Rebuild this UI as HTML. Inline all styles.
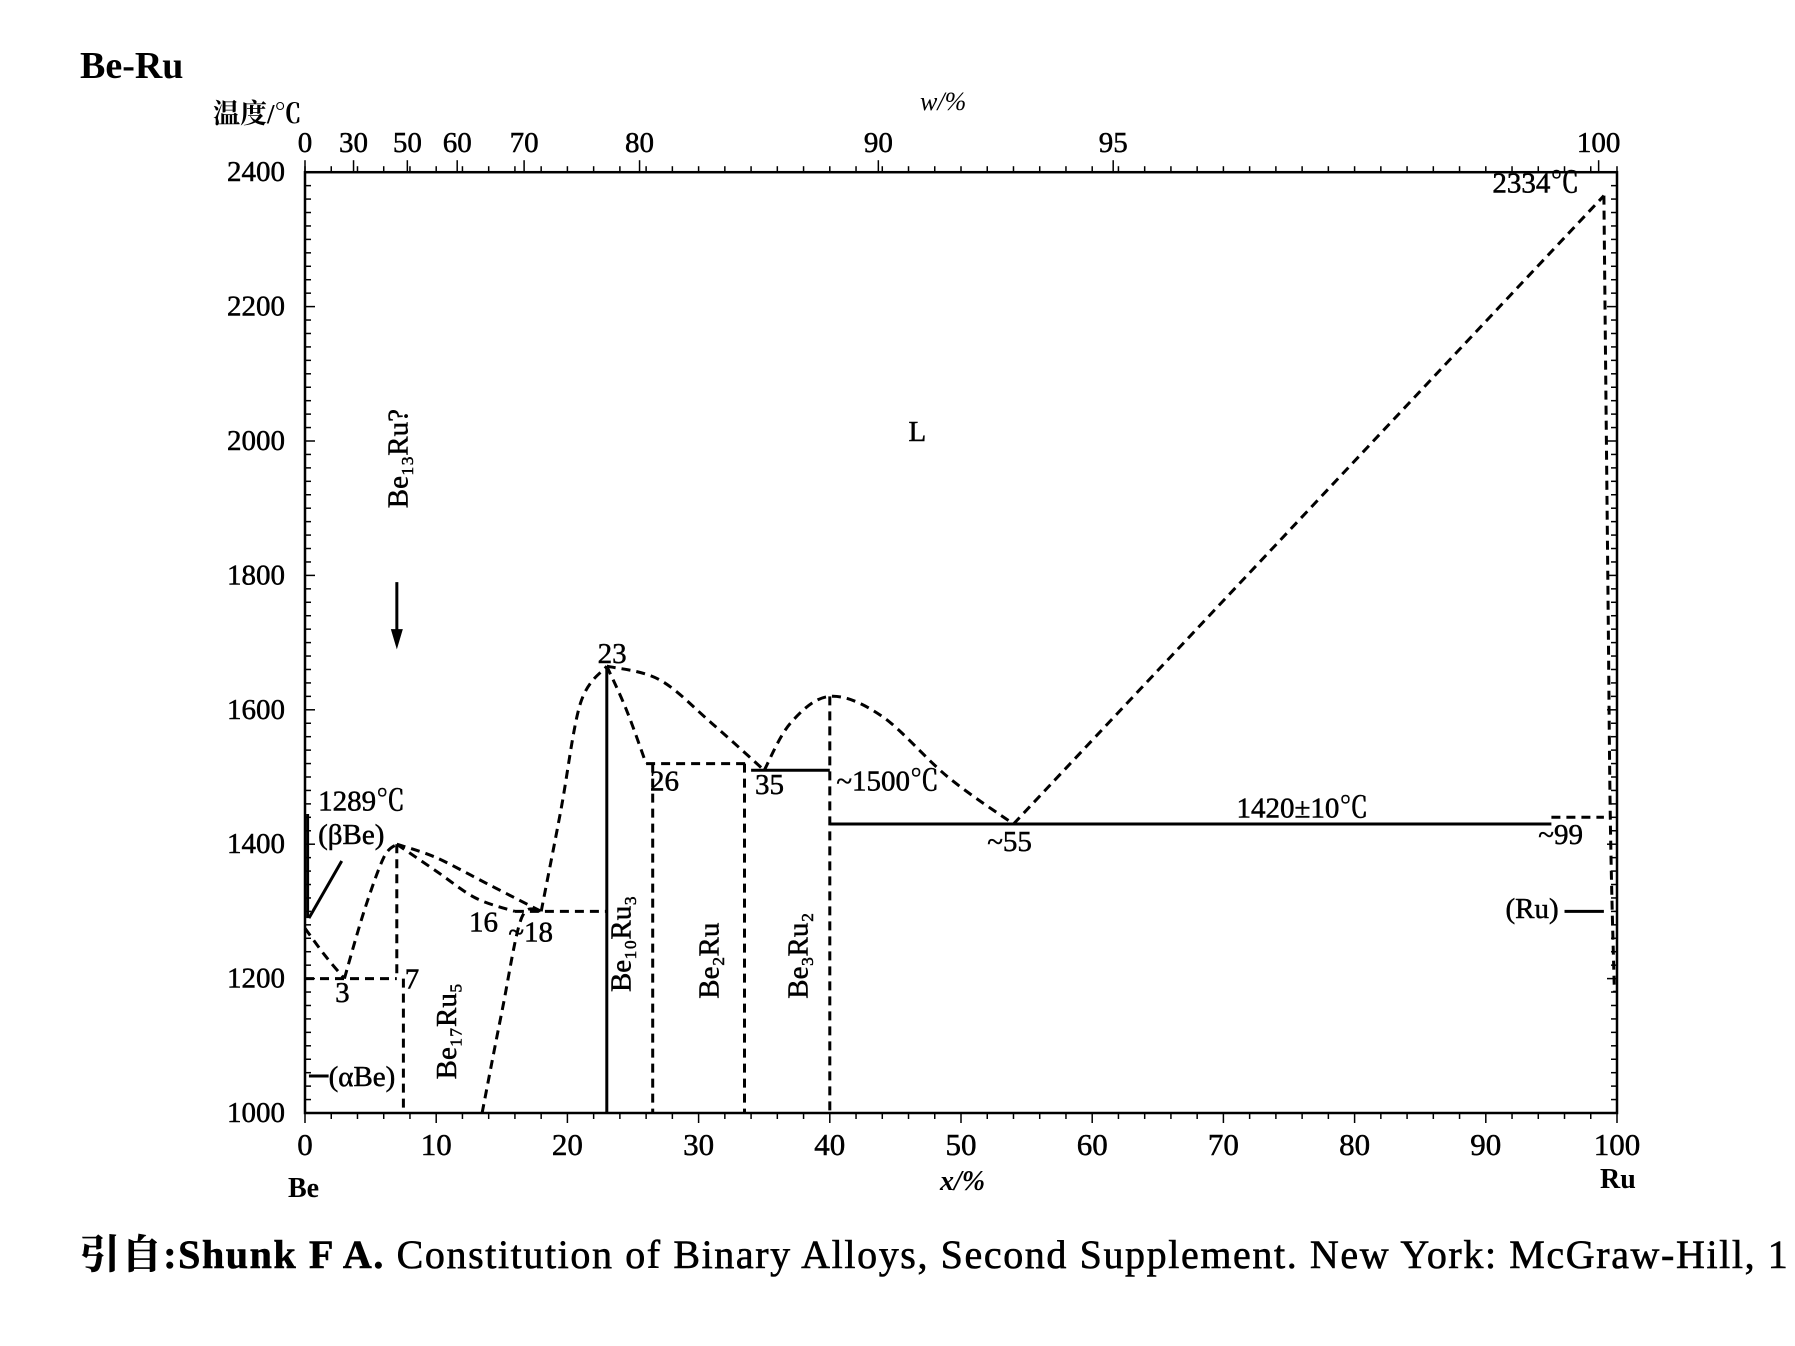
<!DOCTYPE html>
<html><head><meta charset="utf-8"><style>
body{margin:0;background:#fff;}
svg{display:block;font-family:"Liberation Serif","Noto Serif CJK SC",serif;}
#axes text,#labels text{stroke:#000;stroke-width:0.5;}
</style></head><body>
<svg id="chart" width="1795" height="1346" viewBox="0 0 1795 1346" xmlns="http://www.w3.org/2000/svg">
<text x="80" y="78" font-size="38" font-weight="bold">Be-Ru</text>
<text x="213" y="123" font-size="27" font-weight="bold">温度/℃</text>
<text x="920" y="110" font-size="26" font-style="italic">w/%</text>
<text x="940" y="1190" font-size="28" font-weight="bold" font-style="italic">x/%</text>
<text x="288" y="1197" font-size="28" font-weight="bold">Be</text>
<text x="1600" y="1188" font-size="28" font-weight="bold">Ru</text>
<text x="80" y="1268" font-size="40" letter-spacing="1.6" stroke="#000" stroke-width="0.6"><tspan font-weight="bold">引自:Shunk F A.</tspan> Constitution of Binary Alloys, Second Supplement. New York: McGraw-Hill, 1</text>
<g id="axes"></g>
<g id="marks"></g>
<g id="labels" font-size="29"></g>
</svg>
<script>
const yTicks=[1000,1200,1400,1600,1800,2000,2200,2400];
const xTicks=[0,10,20,30,40,50,60,70,80,90,100];
const topTickLabels=["0","30","50","60","70","80","90","95","100"];
const topTickPos=[0,3.7,7.8,11.6,16.7,25.5,43.7,61.6,98.6];
const seg_liq1=[[0,1275],[1.5,1235],[3,1200]];
const seg_liq2=[[3,1200],[4.5,1300],[6,1380],[7,1400]];
const seg_liq3=[[7,1400],[10,1380],[14,1340],[18,1300]];
const seg_liq3b=[[7,1400],[10,1360],[13,1320],[16,1300]];
const seg_be17=[[13.5,1000],[15,1150],[16.5,1290],[18,1300]];
const seg_liq4=[[18,1300],[19.5,1450],[21,1610],[23,1665]];
const seg_liq5=[[23,1665],[27,1645],[31,1580],[35,1510]];
const seg_liq6=[[23,1665],[24.5,1600],[26,1520]];
const seg_liq7=[[35,1510],[37,1580],[40,1620],[44,1590],[49,1500],[54,1430]];
const seg_liq8=[[54,1430],[99,2365]];
const seg_ru=[[99,2365],[99.3,1800],[99.5,1430],[99.8,1180]];
const dashedH=[[0,7,1200],[16,23,1300],[26,34,1520],[95,99,1440]];
const solidH=[[34,40,1510],[40,95,1430]];
const dashedV=[[7,1400,1200],[7.5,1200,1000],[26.5,1520,1000],[33.5,1520,1000],[40,1620,1000]];
const solidV=[[23,1665,1000]];
const NS="http://www.w3.org/2000/svg";
function X(v){return 305+v*13.12;}
function Y(t){return 1113-(t-1000)*0.672;}
const axes=document.getElementById('axes'),marks=document.getElementById('marks'),labels=document.getElementById('labels');
function mk(tag,attrs,parent){const e=document.createElementNS(NS,tag);for(const k in attrs)e.setAttribute(k,attrs[k]);parent.appendChild(e);return e;}
let r=mk('rect',{x:X(0),y:Y(2400),width:X(100)-X(0),height:Y(1000)-Y(2400),fill:'none',stroke:'#000','stroke-width':2.5},axes);


for(let t=1000;t<=2400;t+=20){const big=t%200==0;
 mk('line',{x1:X(0),x2:X(0)+(big?10:6),y1:Y(t),y2:Y(t),stroke:'#000','stroke-width':1.5},axes);
 mk('line',{x1:X(100),x2:X(100)-(big?10:6),y1:Y(t),y2:Y(t),stroke:'#000','stroke-width':1.5},axes);}
for(let v=0;v<=100;v+=2){const big=v%10==0;
 mk('line',{x1:X(v),x2:X(v),y1:Y(1000),y2:Y(1000)+(big?10:6),stroke:'#000','stroke-width':1.5},axes);
 mk('line',{x1:X(v),x2:X(v),y1:Y(2400),y2:Y(2400)-6,stroke:'#000','stroke-width':1.5},axes);}
yTicks.forEach(t=>{const e=mk('text',{x:X(0)-20,y:Y(t)+9,'text-anchor':'end','font-size':29},axes);e.textContent=t;
 
 });
xTicks.forEach(v=>{const e=mk('text',{x:X(v),y:Y(1000)+42,'text-anchor':'middle','font-size':31},axes);e.textContent=v;
 
 });
topTickLabels.forEach((s,i)=>{mk('line',{x1:X(topTickPos[i]),x2:X(topTickPos[i]),y1:Y(2400),y2:Y(2400)-12,stroke:'#000','stroke-width':1.5},axes);
 const e=mk('text',{x:X(topTickPos[i]),y:Y(2400)-20,'text-anchor':'middle','font-size':29},axes);e.textContent=s;
 
 });
function path(pts,dash,name){const d='M'+pts.map(p=>X(p[0]).toFixed(1)+','+Y(p[1]).toFixed(1)).join(' L');
 const e=mk('path',{d:d,fill:'none',stroke:'#000','stroke-width':3,'stroke-dasharray':dash?'9,6':'none','stroke-linejoin':'round'},marks);
 
 }
function smooth(pts,name){const P=pts.map(p=>[X(p[0]),Y(p[1])]);let d='M'+P[0][0].toFixed(1)+','+P[0][1].toFixed(1);
 for(let i=0;i<P.length-1;i++){const p0=P[i-1]||P[i],p1=P[i],p2=P[i+1],p3=P[i+2]||p2;
  const c1=[p1[0]+(p2[0]-p0[0])/6,p1[1]+(p2[1]-p0[1])/6],c2=[p2[0]-(p3[0]-p1[0])/6,p2[1]-(p3[1]-p1[1])/6];
  d+=` C${c1[0].toFixed(1)},${c1[1].toFixed(1)} ${c2[0].toFixed(1)},${c2[1].toFixed(1)} ${p2[0].toFixed(1)},${p2[1].toFixed(1)}`;}
 const e=mk('path',{d:d,fill:'none',stroke:'#000','stroke-width':3,'stroke-dasharray':'9,6'},marks);
 
 }
[seg_liq1,seg_liq2,seg_liq3,seg_liq3b,seg_be17,seg_liq4,seg_liq5,seg_liq6,seg_liq7,seg_liq8,seg_ru].forEach((s,i)=>smooth(s,'phase-boundary-'+i));
dashedH.forEach(h=>path([[h[0],h[2]],[h[1],h[2]]],true,'dashed-isotherm'));
solidH.forEach(h=>path([[h[0],h[2]],[h[1],h[2]]],false,'solid-isotherm'));
dashedV.forEach(v=>path([[v[0],v[1]],[v[0],v[2]]],true,'dashed-phase-line'));
solidV.forEach(v=>path([[v[0],v[1]],[v[0],v[2]]],false,'solid-phase-line'));
const txt=[["L",46,2000],["2334℃",90.5,2370],["1289℃",1,1450],["(βBe)",1,1400],["3",2.3,1165],["7",7.6,1185],["16",12.5,1270],["~18",15.5,1255],["23",22.3,1670],["26",26.3,1480],["35",34.3,1475],["~1500℃",40.5,1480],["1420±10℃",71,1440],["~55",52,1390],["~99",94,1400],["(Ru)",91.5,1290],["(αBe)",1.8,1040]];
txt.forEach(t=>{const e=mk('text',{x:X(t[1]),y:Y(t[2])},labels);e.textContent=t[0];
 
 });
const rot=[["Be₁₇Ru₅",11.5,1050],["Be₁₀Ru₃",24.8,1180],["Be₂Ru",31.5,1170],["Be₃Ru₂",38.3,1170],["Be₁₃Ru?",7.8,1900]];
rot.forEach(t=>{const e=mk('text',{x:X(t[1]),y:Y(t[2]),transform:`rotate(-90 ${X(t[1])} ${Y(t[2])})`},labels);e.textContent=t[0];
 
 });
mk('line',{x1:X(7),y1:Y(1790),x2:X(7),y2:Y(1710),stroke:'#000','stroke-width':3},marks);
mk('path',{d:`M${X(7)-6},${Y(1720)} L${X(7)+6},${Y(1720)} L${X(7)},${Y(1690)} Z`},marks);
mk('line',{x1:X(2.8),y1:Y(1375),x2:X(0.3),y2:Y(1290),stroke:'#000','stroke-width':3},marks);
mk('line',{x1:X(0.2),y1:Y(1445),x2:X(0.2),y2:Y(1290),stroke:'#000','stroke-width':3},marks);
mk('line',{x1:X(0.3),y1:Y(1055),x2:X(1.8),y2:Y(1055),stroke:'#000','stroke-width':3},marks);
mk('line',{x1:X(96),y1:Y(1300),x2:X(99),y2:Y(1300),stroke:'#000','stroke-width':3},marks);
</script>
</body></html>
